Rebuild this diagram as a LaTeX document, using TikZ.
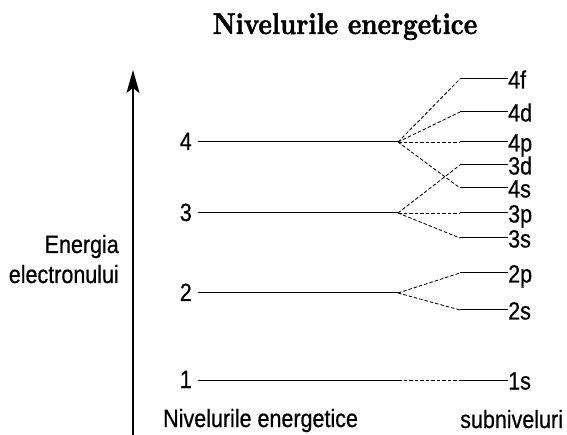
\documentclass[tikz,border=0pt]{standalone}
\usepackage{fontspec}
\newfontfamily\labfont[FakeStretch=0.86, FakeBold=0.6]{Liberation Sans}
\newfontfamily\titlefont[Extension=.otf, UprightFont=*-bold, FakeStretch=0.85, FakeBold=1.5]{lmroman10}
\usetikzlibrary{arrows.meta}

\begin{document}
\begin{tikzpicture}[x=1pt,y=-1pt,
  lbl/.style={font=\labfont\fontsize{25}{28}\selectfont, inner sep=0pt},
  lvl/.style={line width=1pt},
  split/.style={line width=0.85pt, dash pattern=on 3.5pt off 2pt},
]
\useasboundingbox (0,0) rectangle (567,435);

% title
\node[font=\titlefont\fontsize{30}{34}\selectfont, anchor=base] (title) at (345,34) {Nivelurile energetice};

% energy axis
\coordinate (axb) at (133,435);
\coordinate (axt) at (133,70);
\draw[line width=1.2pt, -{Stealth[length=23pt,width=13pt,inset=5pt]}] (axb) -- (axt);

% main energy levels
\foreach \n/\y in {1/380,2/293,3/213,4/142}{
  \node[lbl, anchor=base east] (n\n) at (192,\y+8) {\n};
  \coordinate (L\n) at (198,\y);
  \coordinate (F\n) at (398,\y);
  \draw[lvl] (L\n) -- (F\n);
}

% sublevels
\foreach \s/\y in {4f/79,4d/112,4p/142,3d/165,4s/188,3p/213,3s/238,2p/273,2s/310,1s/380}{
  \coordinate (S\s) at (460,\y);
  \node[lbl, anchor=base west] (t\s) at (508,\y+9.5) {\s};
  \draw[lvl] (S\s) -- (S\s -| t\s.west);
}

% splitting of each level into its sublevels
\foreach \a/\b in {4/4f,4/4d,4/4p,4/4s,3/3d,3/3p,3/3s,2/2p,2/2s,1/1s}
  \draw[split] (F\a) -- (S\b);

% axis and column captions
\node[lbl, anchor=base east] (en1) at (119,253) {Energia};
\node[lbl, anchor=base east] (en2) at (119,283) {electronului};
\node[lbl, anchor=base west] (nivb) at (163,427) {Nivelurile energetice};
\node[lbl, anchor=base west] (subb) at (460,428) {subniveluri};
\end{tikzpicture}
\end{document}
